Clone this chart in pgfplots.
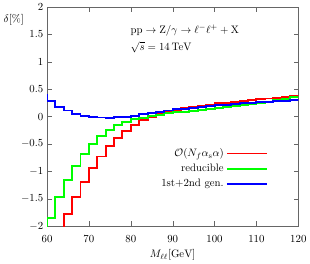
\documentclass[border=0pt]{standalone}
\usepackage{pgfplots}
\pgfplotsset{compat=1.18}
\begin{document}
\begin{tikzpicture}
\begin{axis}[
  name=ax,
  scale only axis,
  width=233pt, height=203pt,
  xmin=60, xmax=120, ymin=-2, ymax=2,
  xtick={60,70,...,120},
  ytick={-2,-1.5,...,2},
  yticklabel style={/pgf/number format/fixed},
  xticklabel style={yshift=-5pt},
  tick align=inside,
  xtick pos=both, ytick pos=both,
  minor tick num=0,
  axis line style={black!60},
  tick style={black!60},
  xlabel={$M_{\ell\ell}[\mathrm{GeV}]$},
  legend style={draw=none, fill=none, at={(rel axis cs:0.892,0.374)}, anchor=north east,
    row sep=1.5pt},
  legend plot pos=right,
  legend cell align=right,
  legend image code/.code={\begin{scope}[#1]\draw (0cm,0cm) -- (1.3cm,0cm);\end{scope}},
  clip=true,
]
\addplot[red, line width=1.8pt, const plot] coordinates {
(58,-3)(60,-2.6)(62,-2.2)(64,-1.78)(66,-1.47)(68,-1.19)(70,-0.94)(72,-0.73)(74,-0.54)(76,-0.39)(78,-0.26)
(80,-0.155)(82,-0.066)(84,0.0)(86,0.045)(88,0.085)(90,0.12)(92,0.15)(94,0.175)(96,0.2)(98,0.22)
(100,0.24)(102,0.255)(104,0.27)(106,0.285)(108,0.3)(110,0.315)(112,0.33)(114,0.345)(116,0.36)(118,0.375)(120,0.375)(122,0.375)};
\addlegendentry{$\mathcal{O}(N_f\alpha_{\mathrm{s}}\alpha)$}
\addplot[green, line width=1.8pt, const plot] coordinates {
(58,-2.5)(60,-1.85)(62,-1.47)(64,-1.16)(66,-0.9)(68,-0.69)(70,-0.51)(72,-0.36)(74,-0.25)(76,-0.16)(78,-0.1)
(80,-0.05)(82,-0.02)(84,0.01)(86,0.035)(88,0.06)(90,0.075)(92,0.09)(94,0.1)(96,0.115)(98,0.135)
(100,0.15)(102,0.17)(104,0.19)(106,0.21)(108,0.23)(110,0.25)(112,0.27)(114,0.295)(116,0.32)(118,0.36)(120,0.36)(122,0.36)};
\addlegendentry{reducible}
\addplot[blue, line width=1.8pt, const plot] coordinates {
(58,0.4)(60,0.29)(62,0.18)(64,0.11)(66,0.054)(68,0.018)(70,-0.006)(72,-0.018)(74,-0.02)(76,-0.012)(78,0.0)
(80,0.018)(82,0.04)(84,0.06)(86,0.085)(88,0.11)(90,0.13)(92,0.145)(94,0.16)(96,0.175)(98,0.19)
(100,0.205)(102,0.215)(104,0.225)(106,0.24)(108,0.25)(110,0.26)(112,0.27)(114,0.28)(116,0.29)(118,0.3)(120,0.3)(122,0.3)};
\addlegendentry{1st+2nd gen.}
\node[anchor=west] at (axis cs:79.05,1.575) {$\mathrm{pp}\to\mathrm{Z}/\gamma\to\ell^-\ell^+ + \mathrm{X}$};
\node[anchor=west] at (axis cs:79.05,1.26) {$\sqrt{s}=14\,\mathrm{TeV}$};
\end{axis}
\node[anchor=east] at ([xshift=-18pt,yshift=-11.6pt]ax.north west) {$\delta[\%]$};
\end{tikzpicture}
\end{document}
